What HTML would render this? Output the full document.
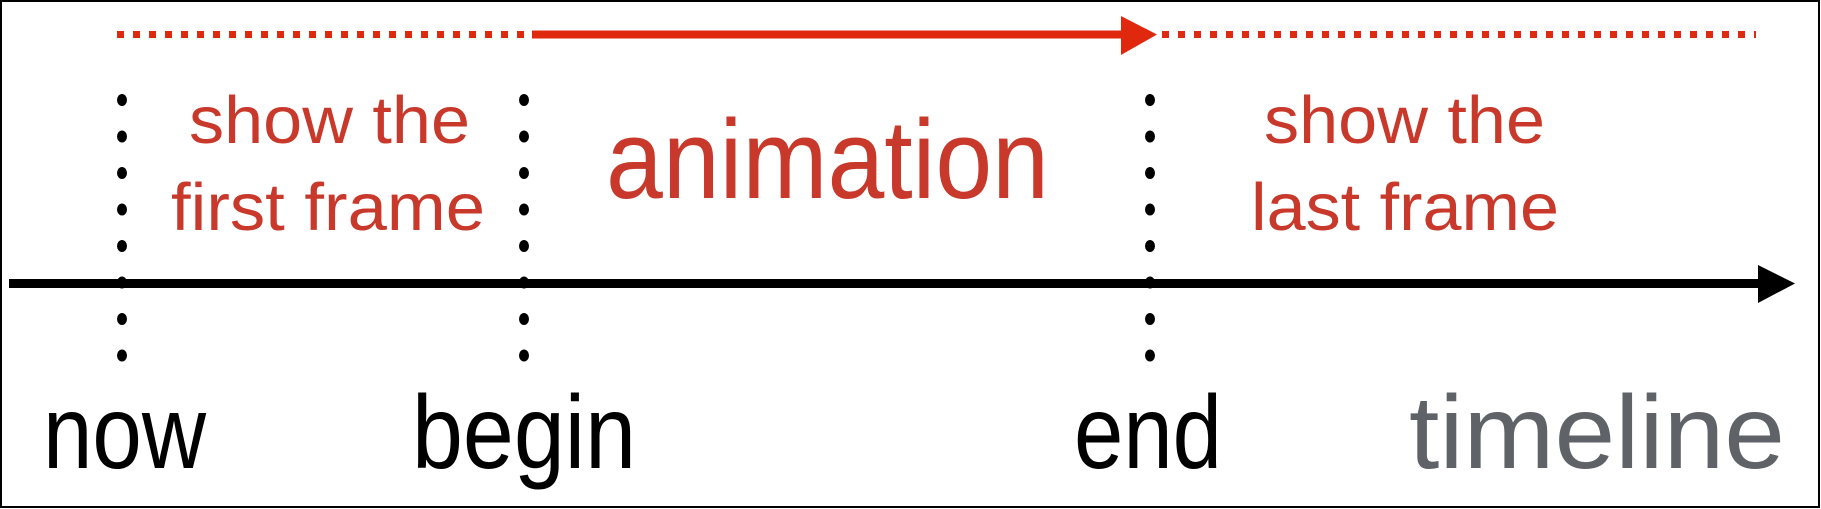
<!DOCTYPE html>
<html><head><meta charset="utf-8"><style>
html,body{margin:0;padding:0;background:#fff;width:1821px;height:509px;overflow:hidden}
svg{display:block}
text{font-family:"Liberation Sans",sans-serif}
</style></head><body>
<svg width="1821" height="509" viewBox="0 0 1821 509">
<rect x="1" y="1" width="1818" height="506" fill="#fff" stroke="#000" stroke-width="2"/>
<g>
<line x1="117" y1="34.5" x2="528" y2="34.5" stroke="#e0280f" stroke-width="7" stroke-dasharray="7 9"/>
<line x1="532" y1="34.5" x2="1125" y2="34.5" stroke="#e0280f" stroke-width="8"/>
<polygon points="1121,16 1157,34.5 1121,55" fill="#e0280f"/>
<line x1="1162" y1="34.5" x2="1756" y2="34.5" stroke="#e0280f" stroke-width="7" stroke-dasharray="7 9"/>
</g>
<g>
<line x1="9" y1="283.5" x2="1765" y2="283.5" stroke="#000" stroke-width="9"/>
<polygon points="1758,265 1795,283.5 1758,303" fill="#000"/>
</g>
<g id="markers"></g>
<g fill="#c8392b">
<text x="189" y="143" font-size="67" textLength="281" lengthAdjust="spacingAndGlyphs">show the</text>
<text x="171" y="230" font-size="67" textLength="314" lengthAdjust="spacingAndGlyphs">first frame</text>
<text x="606" y="198" font-size="112" textLength="443" lengthAdjust="spacingAndGlyphs">animation</text>
<text x="1264" y="143" font-size="67" textLength="281" lengthAdjust="spacingAndGlyphs">show the</text>
<text x="1251" y="230" font-size="67" textLength="308" lengthAdjust="spacingAndGlyphs">last frame</text>
</g>
<g font-size="104">
<text x="43" y="468" textLength="163" lengthAdjust="spacingAndGlyphs">now</text>
<text x="412" y="468" textLength="224" lengthAdjust="spacingAndGlyphs">begin</text>
<text x="1074" y="468" textLength="148" lengthAdjust="spacingAndGlyphs">end</text>
<text x="1409" y="468" fill="#5f6368" textLength="376" lengthAdjust="spacingAndGlyphs">timeline</text>
</g>
</svg>
<script>
const markerNames = ['now','begin','end'];
const markerX = [122, 524, 1150];
const g = document.getElementById('markers');
const ns = 'http://www.w3.org/2000/svg';
markerX.forEach((x, k) => {
  for (let i = 0; i < 8; i++) {
    const e = document.createElementNS(ns, 'ellipse');
    e.setAttribute('cx', x);
    e.setAttribute('cy', 100 + i * 36.5);
    e.setAttribute('rx', 5);
    e.setAttribute('ry', 6);
    e.setAttribute('fill', '#000');
    
    
    g.appendChild(e);
  }
});
</script>
</body></html>
